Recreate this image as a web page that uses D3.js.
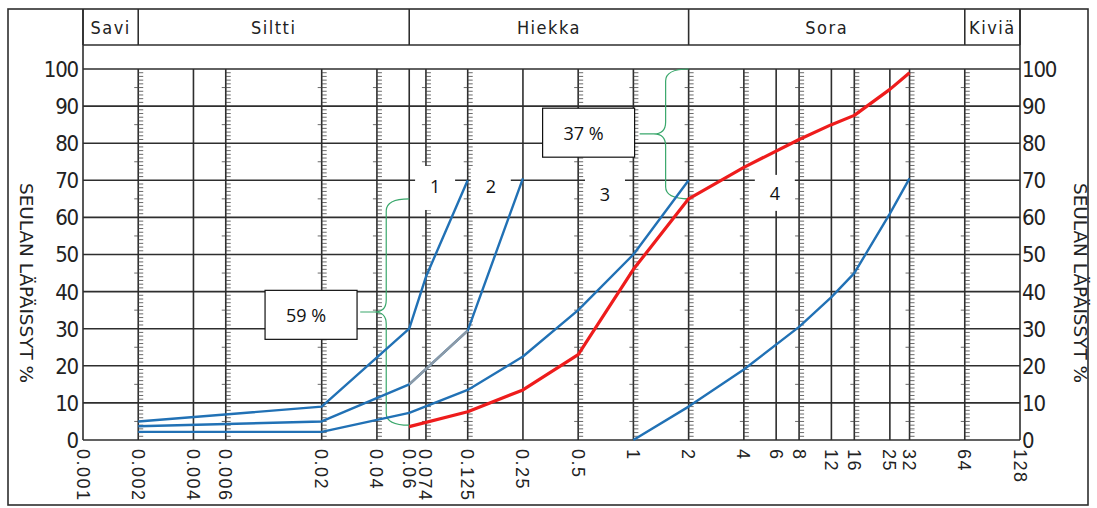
<!DOCTYPE html>
<html>
<head>
<meta charset="utf-8">
<script src="https://cdn.jsdelivr.net/npm/d3@7/dist/d3.min.js"></script>
<style>
  body { margin: 0; background: #fff; }
  svg { display: block; }
</style>
</head>
<body>
<script>
// grain sizes (mm) printed under the chart
const xTicks = [0.001, 0.002, 0.004, 0.006, 0.02, 0.04, 0.06, 0.074, 0.125, 0.25, 0.5,
                1, 2, 4, 6, 8, 12, 16, 25, 32, 64, 128];
// vertical lines that carry the small 1 % ruler marks
const rulerTicks = [0.002, 0.006, 0.02, 0.04, 0.074, 0.125, 0.5, 1, 2, 4, 8, 16, 32, 64];
const yTicks = d3.range(0, 101, 10);

const zoneNames = ["Savi", "Siltti", "Hiekka", "Sora", "Kiviä"];
const zoneBounds = [0.001, 0.002, 0.06, 2, 64, 128];

// sieve curves: grain size (mm) -> passing %
const sizes1 = [0.002, 0.02, 0.06, 0.074, 0.125];
const pass1  = [5, 9, 30, 44, 70];
const sizes2 = [0.002, 0.02, 0.06, 0.125, 0.25];
const pass2  = [3.7, 5, 15, 29.5, 70.5];
const sizes3 = [0.002, 0.02, 0.06, 0.125, 0.25, 0.5, 1, 2];
const pass3  = [2.2, 2.2, 7.3, 13.5, 22.5, 35, 50, 70];
const sizes4 = [1, 2, 4, 8, 12, 16, 25, 32];
const pass4  = [0, 9, 19, 30.5, 38.5, 45, 61, 70.5];
const sizesRed = [0.06, 0.125, 0.25, 0.5, 1, 2, 4, 8, 12, 16, 25, 32];
const passRed  = [3.6, 7.6, 13.5, 23, 46, 65, 73.5, 81, 85, 87.5, 94.5, 99];

// curve numbers and percentage notes, in data units
const curveLabels = ["1", "2", "3", "4"];
const curveLabelX = [0.083, 0.167, 0.70, 5.9];
const curveLabelY = [68.2, 68.2, 65.5, 65.8];
const noteTexts = ["59 %", "37 %"];
const noteX = [0.0175, 0.57];
const noteY = [33.6, 82.7];
// braces: grain size of the line they hug, top %, bottom %
const braceX = [0.06, 2];
const braceTop = [65, 100];
const braceBottom = [4, 65];

const width = 1097, height = 508;
const plotL = 83, plotR = 1020, plotT = 69, plotB = 440;
const ink = "#2e2e2e";

const svg = d3.select("body").append("svg")
  .attr("width", width)
  .attr("height", height);

const x = d3.scaleLog().domain([0.001, 128]).range([plotL, plotR]);
const y = d3.scaleLinear().domain([0, 100]).range([plotB, plotT]);

// outer frame
svg.append("rect")
  .attr("x", 8).attr("y", 9)
  .attr("width", 1080).attr("height", 496)
  .attr("fill", "none").attr("stroke", ink).attr("stroke-width", 1.6);

// header band with soil classes
const header = svg.append("g");
header.append("line")
  .attr("x1", plotL).attr("x2", plotR).attr("y1", 45).attr("y2", 45)
  .attr("stroke", ink).attr("stroke-width", 1.6);
header.selectAll("line.zone")
  .data(zoneBounds)
  .join("line")
  .attr("class", "zone")
  .attr("x1", d => x(d)).attr("x2", d => x(d))
  .attr("y1", 9).attr("y2", 45)
  .attr("stroke", ink).attr("stroke-width", 1.6);
header.selectAll("text")
  .data(zoneNames)
  .join("text")
  .attr("x", (d, i) => (x(zoneBounds[i]) + x(zoneBounds[i + 1])) / 2)
  .attr("y", 34)
  .attr("text-anchor", "middle")
  .style("font-family", "'DejaVu Sans Condensed', 'Liberation Sans Narrow', sans-serif")
  .style("font-size", "18px")
  .style("letter-spacing", "1.5px")
  .attr("fill", "#222")
  .text(d => d);

// plot borders (left and right reach up into the header)
svg.selectAll("line.edge")
  .data([0.001, 128])
  .join("line")
  .attr("class", "edge")
  .attr("x1", d => x(d)).attr("x2", d => x(d))
  .attr("y1", 9).attr("y2", plotB)
  .attr("stroke", ink).attr("stroke-width", 1.6);

// horizontal grid
svg.append("g")
  .selectAll("line")
  .data(yTicks)
  .join("line")
  .attr("x1", plotL).attr("x2", plotR)
  .attr("y1", d => y(d)).attr("y2", d => y(d))
  .attr("stroke", ink).attr("stroke-width", 1.6);

// vertical grid
svg.append("g")
  .selectAll("line")
  .data(xTicks.slice(1, -1))
  .join("line")
  .attr("x1", d => x(d)).attr("x2", d => x(d))
  .attr("y1", plotT).attr("y2", plotB)
  .attr("stroke", ink).attr("stroke-width", 1.6);

// ruler marks along some verticals
const minor = d3.range(1, 100).filter(v => v % 10 !== 0);
const rulers = svg.append("g").attr("stroke", "#444").attr("stroke-width", 0.8);
rulerTicks.forEach(t => {
  const xv = x(t);
  rulers.append("g")
    .selectAll("line")
    .data(minor)
    .join("line")
    .attr("x1", v => v % 5 === 0 ? xv - 4 : xv)
    .attr("x2", xv + 5)
    .attr("y1", v => y(v)).attr("y2", v => y(v));
});

// y tick labels, both sides
const numFont = "'Liberation Sans Narrow', 'DejaVu Sans Condensed', sans-serif";
svg.append("g")
  .selectAll("text")
  .data(yTicks)
  .join("text")
  .attr("x", plotL - 5)
  .attr("y", d => y(d))
  .attr("dy", "0.36em")
  .attr("text-anchor", "end")
  .style("font-family", numFont)
  .style("font-size", "22px")
  .style("letter-spacing", "-1.2px")
  .attr("fill", "#222")
  .text(d => d);
svg.append("g")
  .selectAll("text")
  .data(yTicks)
  .join("text")
  .attr("x", plotR + 2)
  .attr("y", d => y(d))
  .attr("dy", "0.36em")
  .style("font-family", numFont)
  .style("font-size", "22px")
  .style("letter-spacing", "-1.2px")
  .attr("fill", "#222")
  .text(d => d);

// x tick labels, turned to read downwards
svg.append("g")
  .selectAll("text")
  .data(xTicks)
  .join("text")
  .attr("transform", d => `translate(${x(d)},449) rotate(90)`)
  .attr("dy", "0.36em")
  .style("font-family", "'Liberation Sans', Arial, sans-serif")
  .style("font-size", "18px")
  .style("letter-spacing", "1.5px")
  .attr("fill", "#222")
  .text(d => String(d));

// axis titles
[26, 1080].forEach(tx => {
  svg.append("text")
    .attr("transform", `translate(${tx},283) rotate(90)`)
    .attr("text-anchor", "middle")
    .attr("dy", "0.36em")
    .attr("textLength", 200)
    .attr("lengthAdjust", "spacingAndGlyphs")
    .style("font-family", "'DejaVu Sans Condensed', sans-serif")
    .style("font-size", "17px")
    .attr("fill", "#222")
    .text("SEULAN LÄPÄISSYT %");
});

// braces
const braceG = svg.append("g")
  .attr("fill", "none").attr("stroke", "#3aa86c").attr("stroke-width", 1.2);
braceX.forEach((b, i) => {
  const x0 = x(b), xv = x0 - 23, xt = x0 - 49, r = 12;
  const y0 = y(braceTop[i]), y1 = y(braceBottom[i]), ym = (y0 + y1) / 2;
  const p = d3.path();
  p.moveTo(x0, y0);
  p.quadraticCurveTo(xv, y0, xv, y0 + r);
  p.lineTo(xv, ym - r);
  p.quadraticCurveTo(xv, ym, xv - r, ym);
  p.lineTo(xt, ym);
  p.moveTo(xv - r, ym);
  p.quadraticCurveTo(xv, ym, xv, ym + r);
  p.lineTo(xv, y1 - r);
  p.quadraticCurveTo(xv, y1, x0, y1);
  braceG.append("path").attr("d", p.toString());
});

// curve number labels on white patches
const labFont = "'Open Sans', 'Liberation Sans', sans-serif";
const cl = svg.append("g");
curveLabels.forEach((t, i) => {
  const cx = x(curveLabelX[i]), cy = y(curveLabelY[i]);
  cl.append("rect")
    .attr("x", cx - 20).attr("y", cy - 21)
    .attr("width", 40).attr("height", i < 2 ? 44 : 36)
    .attr("fill", "#fff");
  cl.append("text")
    .attr("x", cx).attr("y", cy + (i < 2 ? 0 : -2))
    .attr("dy", "0.36em")
    .attr("text-anchor", "middle")
    .style("font-family", labFont)
    .style("font-size", "18px")
    .attr("fill", "#111")
    .text(t);
});

// percentage notes
noteTexts.forEach((t, i) => {
  const cx = x(noteX[i]), cy = y(noteY[i]);
  svg.append("rect")
    .attr("x", cx - 46).attr("y", cy - 25)
    .attr("width", 92).attr("height", 49)
    .attr("fill", "#fff").attr("stroke", "#111").attr("stroke-width", 1.2);
  svg.append("text")
    .attr("x", cx - 5).attr("y", cy)
    .attr("dy", "0.36em")
    .attr("text-anchor", "middle")
    .style("font-family", labFont)
    .style("font-size", "18px")
    .attr("fill", "#111")
    .text(t);
});

// sieve curves
const line = d3.line().x(d => x(d[0])).y(d => y(d[1]));
const zip = (a, b) => a.map((v, i) => [v, b[i]]);
const blue = "#2171b5";

[[sizes1, pass1], [sizes2, pass2], [sizes3, pass3], [sizes4, pass4]].forEach(([s, p]) => {
  svg.append("path")
    .attr("d", line(zip(s, p)))
    .attr("fill", "none").attr("stroke", blue).attr("stroke-width", 2.4)
    .attr("stroke-linejoin", "round");
});
// the grey stretch of curve 2
svg.append("path")
  .attr("d", line(zip(sizes2, pass2).slice(2, 4)))
  .attr("fill", "none").attr("stroke", "#8d9aa6").attr("stroke-width", 2.4);

svg.append("path")
  .attr("d", line(zip(sizesRed, passRed)))
  .attr("fill", "none").attr("stroke", "#ee1c1c").attr("stroke-width", 3.2)
  .attr("stroke-linejoin", "round");
</script>
</body>
</html>
